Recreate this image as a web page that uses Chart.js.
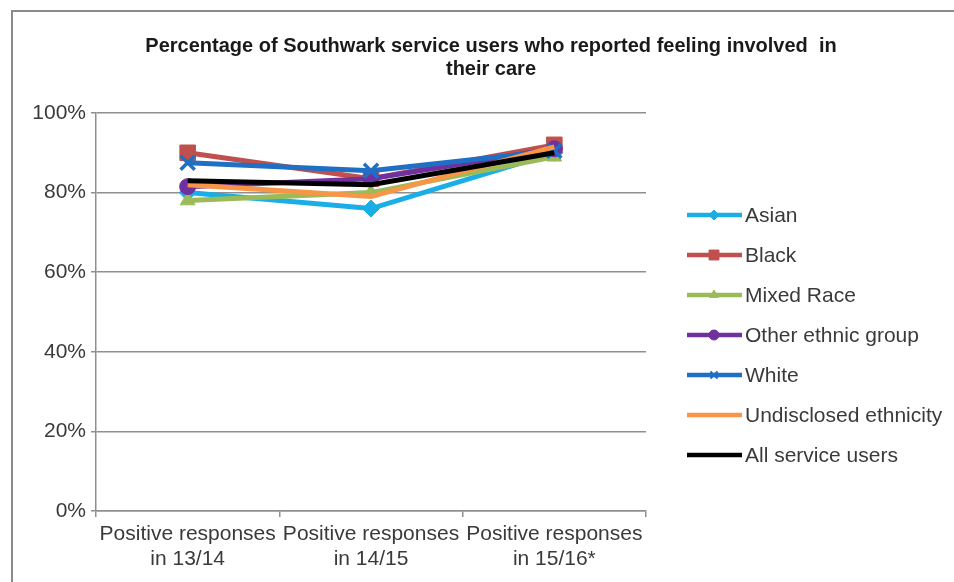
<!DOCTYPE html>
<html>
<head>
<meta charset="utf-8">
<script src="https://cdn.jsdelivr.net/npm/chart.js@4.4.1/dist/chart.umd.min.js"></script>
<style>
  html, body { margin: 0; padding: 0; background: #ffffff; }
  #wrap { width: 954px; height: 582px; position: relative; }
</style>
</head>
<body>
<div id="wrap"><canvas id="c"></canvas></div>
<script>
// ---- Data ----
const categories = [
  ["Positive responses", "in 13/14"],
  ["Positive responses", "in 14/15"],
  ["Positive responses", "in 15/16*"]
];
const seriesNames = ["Asian", "Black", "Mixed Race", "Other ethnic group", "White", "Undisclosed ethnicity", "All service users"];
const asian       = [80, 76, 90];
const black       = [90, 83.5, 92];
const mixedRace   = [78, 80, 89];
const otherEthnic = [81.5, 83.5, 91];
const white       = [87.5, 85.5, 90.5];
const undisclosed = [82, 79, 91.5];
const allUsers    = [83, 82, 90];
const yTicks      = [0, 20, 40, 60, 80, 100];
const titleLines  = ["Percentage of Southwark service users who reported feeling involved  in", "their care"];

// ---- Styles ----
const styles = [
  { color: "#1AAEE6", pointStyle: "rectRot",  radius: 8.5, legendRadius: 5 },
  { color: "#C0504D", pointStyle: "rect",     radius: 11,  legendRadius: 7 },
  { color: "#9BBB59", pointStyle: "triangle", radius: 8.5, legendRadius: 5 },
  { color: "#7030A0", pointStyle: "circle",   radius: 8,   legendRadius: 5 },
  { color: "#1F6FC5", pointStyle: "crossRot", radius: 10,  legendRadius: 5 },
  { color: "#F79646", pointStyle: false,      radius: 0,   legendRadius: 0 },
  { color: "#000000", pointStyle: false,      radius: 0,   legendRadius: 0 }
];
const seriesValues = [asian, black, mixedRace, otherEthnic, white, undisclosed, allUsers];

const datasets = seriesValues.map((vals, i) => ({
  label: seriesNames[i],
  data: vals,
  borderColor: styles[i].color,
  backgroundColor: styles[i].color,
  borderWidth: 5,
  pointStyle: styles[i].pointStyle || 'circle',
  pointRadius: styles[i].radius,
  pointHoverRadius: styles[i].radius,
  pointBorderWidth: styles[i].pointStyle === 'crossRot' ? 3.5 : 1,
  pointBackgroundColor: styles[i].color,
  pointBorderColor: styles[i].color,
  tension: 0,
  fill: false,
  order: seriesValues.length - i
}));

const FONT = '"Liberation Sans", Arial, sans-serif';
const TEXT_COLOR = '#3a3a3a';

const framePlugin = {
  id: 'frame',
  beforeDraw(chart) {
    const ctx = chart.ctx;
    ctx.save();
    ctx.fillStyle = '#ffffff';
    ctx.fillRect(0, 0, chart.width, chart.height);
    ctx.strokeStyle = '#8a8a8a';
    ctx.lineWidth = 2;
    ctx.strokeRect(12, 11, chart.width + 50, chart.height + 50);
    ctx.restore();
  },
  afterDraw(chart) {
    const ctx = chart.ctx;
    ctx.save();
    ctx.fillStyle = '#1a1a1a';
    ctx.font = 'bold 20px ' + FONT;
    ctx.textAlign = 'center';
    ctx.textBaseline = 'middle';
    titleLines.forEach((t, i) => ctx.fillText(t, 491, 46 + i * 23));
    ctx.restore();
  }
};

const legendPlugin = {
  id: 'customLegend',
  afterDraw(chart) {
    const ctx = chart.ctx;
    const x0 = chart.chartArea.right + 41;
    const y0 = 215;
    chart.data.datasets.forEach((ds, i) => {
      const y = y0 + i * 40;
      const st = styles[i];
      ctx.save();
      ctx.strokeStyle = ds.borderColor;
      ctx.lineWidth = 4.5;
      ctx.beginPath();
      ctx.moveTo(x0, y);
      ctx.lineTo(x0 + 55, y);
      ctx.stroke();
      if (st.pointStyle) {
        ctx.fillStyle = ds.borderColor;
        ctx.strokeStyle = ds.borderColor;
        ctx.lineWidth = st.pointStyle === 'crossRot' ? 2 : 1;
        Chart.helpers.drawPoint(ctx, { pointStyle: st.pointStyle, radius: st.legendRadius, rotation: 0, borderWidth: ctx.lineWidth }, x0 + 27, y);
      }
      ctx.fillStyle = TEXT_COLOR;
      ctx.font = '21px ' + FONT;
      ctx.textAlign = 'left';
      ctx.textBaseline = 'middle';
      ctx.fillText(ds.label, x0 + 58, y + 1);
      ctx.restore();
    });
  }
};

new Chart(document.getElementById('c'), {
  type: 'line',
  data: { labels: categories, datasets: datasets },
  options: {
    responsive: true,
    maintainAspectRatio: false,
    animation: false,
    devicePixelRatio: 1,
    layout: { padding: { top: 113, right: 308, left: 0, bottom: 0 } },
    plugins: {
      legend: { display: false },
      title: { display: false },
      tooltip: { enabled: false }
    },
    scales: {
      x: {
        type: 'category',
        offset: true,
        grid: { display: true, drawOnChartArea: false, drawTicks: true, tickLength: 6, color: '#8f8f8f', lineWidth: 1.5, offset: true },
        border: { display: true, color: '#8f8f8f', width: 1.5 },
        ticks: { color: TEXT_COLOR, font: { family: FONT, size: 21, lineHeight: 1.22 }, padding: 4, maxRotation: 0, minRotation: 0, autoSkip: false },
        afterFit(scale) { scale.height = 71; }
      },
      y: {
        min: 0, max: 100,
        afterBuildTicks(scale) { scale.ticks = yTicks.map(v => ({ value: v })); },
        grid: { display: true, drawOnChartArea: true, drawTicks: true, tickLength: 5, color: '#8f8f8f', lineWidth: 1.5 },
        border: { display: true, color: '#8f8f8f', width: 1.5 },
        ticks: { color: TEXT_COLOR, font: { family: FONT, size: 21 }, padding: 5, callback: v => v + '%' },
        afterFit(scale) { scale.width = 96; }
      }
    }
  },
  plugins: [framePlugin, legendPlugin]
});
</script>
</body>
</html>
